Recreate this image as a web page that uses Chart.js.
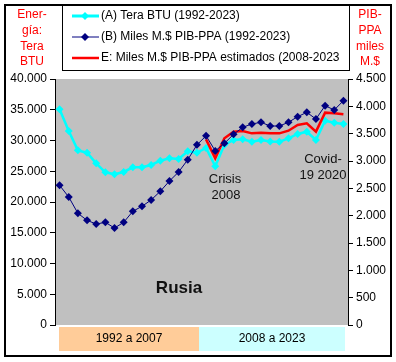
<!DOCTYPE html>
<html>
<head>
<meta charset="utf-8">
<script src="https://cdn.jsdelivr.net/npm/chart.js@4/dist/chart.umd.min.js"></script>
<style>
  html, body { margin: 0; padding: 0; background: #fff; }
  #c { display: block; }
</style>
</head>
<body>
<canvas id="c" width="396" height="362"></canvas>
<script>
var years = [];
for (var y = 1992; y <= 2023; y++) years.push(String(y));

// (A) energia, Tera BTU (eje izquierdo)
var teraBTU = [35070, 31550, 28400, 28020, 26290, 24830, 24500, 24880, 25640, 25640,
               26020, 26720, 27100, 26990, 28240, 28000, 28800, 25800, 29300, 30080,
               30200, 29800, 30080, 29850, 29800, 30350, 31060, 31430, 30080, 33220,
               32900, 32680];

// (B) PIB-PPA miles M.$ (eje derecho)
var pibPPA = [2555, 2341, 2043, 1915, 1847, 1878, 1774, 1878, 2080, 2171,
              2287, 2446, 2634, 2799, 3024, 3295, 3460, 3185, 3323, 3488,
              3616, 3677, 3708, 3640, 3640, 3708, 3811, 3890, 3768, 4012,
              3933, 4103];

// E: PIB-PPA estimado 2008-2023 (eje derecho)
var pibEstimado = [null, null, null, null, null, null, null, null, null, null,
                   null, null, null, null, null, null, 3396, 3049, 3415, 3537,
                   3549, 3506, 3518, 3506, 3506, 3554, 3659, 3689, 3537, 3884,
                   3872, 3854];

var FONT = '"Liberation Sans", Arial, sans-serif';

function fmt(v) {
  return String(v).replace(/\B(?=(\d{3})+(?!\d))/g, '.');
}

var decor = {
  id: 'decor',
  beforeDraw: function (chart) {
    var ctx = chart.ctx, a = chart.chartArea;
    ctx.save();
    ctx.fillStyle = '#fff';
    ctx.fillRect(0, 0, chart.width, chart.height);
    ctx.fillStyle = '#c0c0c0';
    ctx.fillRect(a.left, a.top, a.right - a.left, a.bottom - a.top);
    ctx.restore();
  },
  afterDraw: function (chart) {
    var ctx = chart.ctx;
    ctx.save();
    // marco exterior
    ctx.strokeStyle = '#000';
    ctx.lineWidth = 2;
    ctx.strokeRect(5, 5, 386, 351);

    // leyenda
    ctx.fillStyle = '#fff';
    ctx.fillRect(62, 5, 287, 65);
    ctx.lineWidth = 1;
    ctx.strokeRect(62.5, 5.5, 287, 65);
    var items = [
      { t: '(A) Tera BTU (1992-2023)', c: '#00ffff', w: 3, m: true, y: 16 },
      { t: '(B) Miles M.$ PIB-PPA (1992-2023)', c: '#000080', w: 1, m: true, y: 37 },
      { t: 'E: Miles M.$ PIB-PPA estimados (2008-2023', c: '#ff0000', w: 2.5, m: false, y: 58 }
    ];
    ctx.font = '12px ' + FONT;
    ctx.textBaseline = 'middle';
    ctx.textAlign = 'left';
    items.forEach(function (it) {
      ctx.strokeStyle = it.c;
      ctx.lineWidth = it.w;
      ctx.beginPath();
      ctx.moveTo(72, it.y);
      ctx.lineTo(99, it.y);
      ctx.stroke();
      if (it.m) {
        ctx.fillStyle = it.c;
        ctx.beginPath();
        ctx.moveTo(85, it.y - 4);
        ctx.lineTo(89, it.y);
        ctx.lineTo(85, it.y + 4);
        ctx.lineTo(81, it.y);
        ctx.closePath();
        ctx.fill();
      }
      ctx.fillStyle = '#000';
      ctx.fillText(it.t, 101, it.y);
    });

    // titulos de ejes
    ctx.fillStyle = '#ff0000';
    ctx.textAlign = 'center';
    ['Ener-', 'gía:', 'Tera', 'BTU'].forEach(function (s, i) {
      ctx.fillText(s, 32, 15 + i * 15.7);
    });
    ['PIB-', 'PPA', 'miles', 'M.$'].forEach(function (s, i) {
      ctx.fillText(s, 370, 15 + i * 15.7);
    });

    // anotaciones
    ctx.fillStyle = '#111';
    ctx.font = '13px ' + FONT;
    ctx.fillText('Crisis', 225, 179);
    ctx.fillText('2008', 226, 195);
    ctx.fillText('Covid-', 323, 159);
    ctx.fillText('19 2020', 323, 175);
    ctx.font = 'bold 17px ' + FONT;
    ctx.fillText('Rusia', 179, 288);

    // periodos
    ctx.fillStyle = '#ffcc99';
    ctx.fillRect(59, 327, 140, 24);
    ctx.fillStyle = '#ccffff';
    ctx.fillRect(199, 327, 146, 24);
    ctx.fillStyle = '#000';
    ctx.font = '12px ' + FONT;
    ctx.fillText('1992 a 2007', 129, 339);
    ctx.fillText('2008 a 2023', 272, 339);
    ctx.restore();
  }
};

new Chart(document.getElementById('c'), {
  type: 'line',
  data: {
    labels: years,
    datasets: [
      {
        label: '(B) Miles M.$ PIB-PPA (1992-2023)',
        data: pibPPA,
        yAxisID: 'y1',
        borderColor: '#000080',
        backgroundColor: '#000080',
        borderWidth: 1,
        pointStyle: 'rectRot',
        pointRadius: 4,
        pointBorderWidth: 0,
        order: 1
      },
      {
        label: 'E: Miles M.$ PIB-PPA estimados (2008-2023',
        data: pibEstimado,
        yAxisID: 'y1',
        borderColor: '#ff0000',
        backgroundColor: '#ff0000',
        borderWidth: 2.5,
        pointRadius: 0,
        order: 2
      },
      {
        label: '(A) Tera BTU (1992-2023)',
        data: teraBTU,
        yAxisID: 'y',
        borderColor: '#00ffff',
        backgroundColor: '#00ffff',
        borderWidth: 2.5,
        pointStyle: 'rectRot',
        pointRadius: 4,
        pointBorderWidth: 0,
        order: 3
      }
    ]
  },
  options: {
    responsive: false,
    animation: false,
    devicePixelRatio: 1,
    layout: { padding: { top: 79, bottom: 37, left: 0, right: 0 } },
    plugins: { legend: { display: false }, tooltip: { enabled: false } },
    scales: {
      x: { display: false, offset: true },
      y: {
        position: 'left',
        min: 0, max: 40000,
        afterFit: function (s) { s.width = 55; },
        grid: { drawOnChartArea: false, tickLength: 5, color: '#000', tickColor: '#000' },
        border: { display: true, color: '#000', width: 1 },
        ticks: {
          stepSize: 5000, padding: 3, color: '#000',
          font: { family: FONT, size: 12 },
          callback: function (v) { return fmt(v); }
        }
      },
      y1: {
        position: 'right',
        min: 0, max: 4500,
        afterFit: function (s) { s.width = 48; },
        grid: { drawOnChartArea: false, tickLength: 5, color: '#000', tickColor: '#000' },
        border: { display: true, color: '#000', width: 1 },
        ticks: {
          stepSize: 500, padding: 3, color: '#000',
          font: { family: FONT, size: 12 },
          callback: function (v) { return fmt(v); }
        }
      }
    }
  },
  plugins: [decor]
});
</script>
</body>
</html>
